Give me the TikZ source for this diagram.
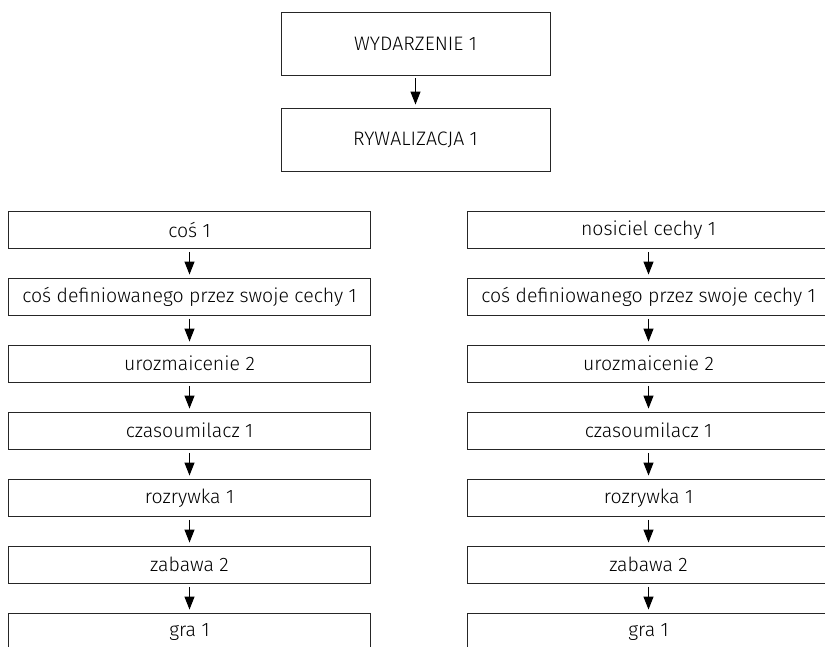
\documentclass[tikz,border=0pt]{standalone}
\usepackage{fontspec}
\setmainfont{Fira Sans Light}
\usetikzlibrary{arrows.meta}
\tikzset{
  box/.style={draw=black!85, line width=0.9pt, rectangle, inner sep=0pt, align=center, font=\fontsize{19.5}{21}\selectfont},
  topbox/.style={box, minimum width=269pt, minimum height=63pt},
  colbox/.style={box, minimum width=362.4pt, minimum height=37.5pt},
  link/.style={draw=black, line width=1.1pt, -{Triangle[length=13pt,width=10pt]}, shorten <=3pt, shorten >=3pt}
}
\begin{document}
\begin{tikzpicture}[x=1pt,y=-1pt]
\useasboundingbox (0,0) rectangle (825,647);
\clip (0,0) rectangle (825,647);
\node[topbox] (w) at (415.5,43.5) {WYDARZENIE 1};
\node[topbox] (r) at (415.5,139.5) {RYWALIZACJA 1};
\draw[link] (w) -- (r);
% left column
\node[colbox] (l1) at (189.5,229.75) {coś 1};
\node[colbox] (l2) at (189.5,296.75) {coś definiowanego przez swoje cechy 1};
\node[colbox] (l3) at (189.5,363.75) {urozmaicenie 2};
\node[colbox] (l4) at (189.5,430.75) {czasoumilacz 1};
\node[colbox] (l5) at (189.5,497.75) {rozrywka 1};
\node[colbox] (l6) at (189.5,564.75) {zabawa 2};
\node[colbox] (l7) at (189.5,631.75) {gra 1};
% right column
\node[colbox] (r1) at (648.5,229.75) {nosiciel cechy 1};
\node[colbox] (r2) at (648.5,296.75) {coś definiowanego przez swoje cechy 1};
\node[colbox] (r3) at (648.5,363.75) {urozmaicenie 2};
\node[colbox] (r4) at (648.5,430.75) {czasoumilacz 1};
\node[colbox] (r5) at (648.5,497.75) {rozrywka 1};
\node[colbox] (r6) at (648.5,564.75) {zabawa 2};
\node[colbox] (r7) at (648.5,631.75) {gra 1};
\foreach \a/\b in {1/2,2/3,3/4,4/5,5/6,6/7}{
  \draw[link] (l\a) -- (l\b);
  \draw[link] (r\a) -- (r\b);
}
\end{tikzpicture}
\end{document}
